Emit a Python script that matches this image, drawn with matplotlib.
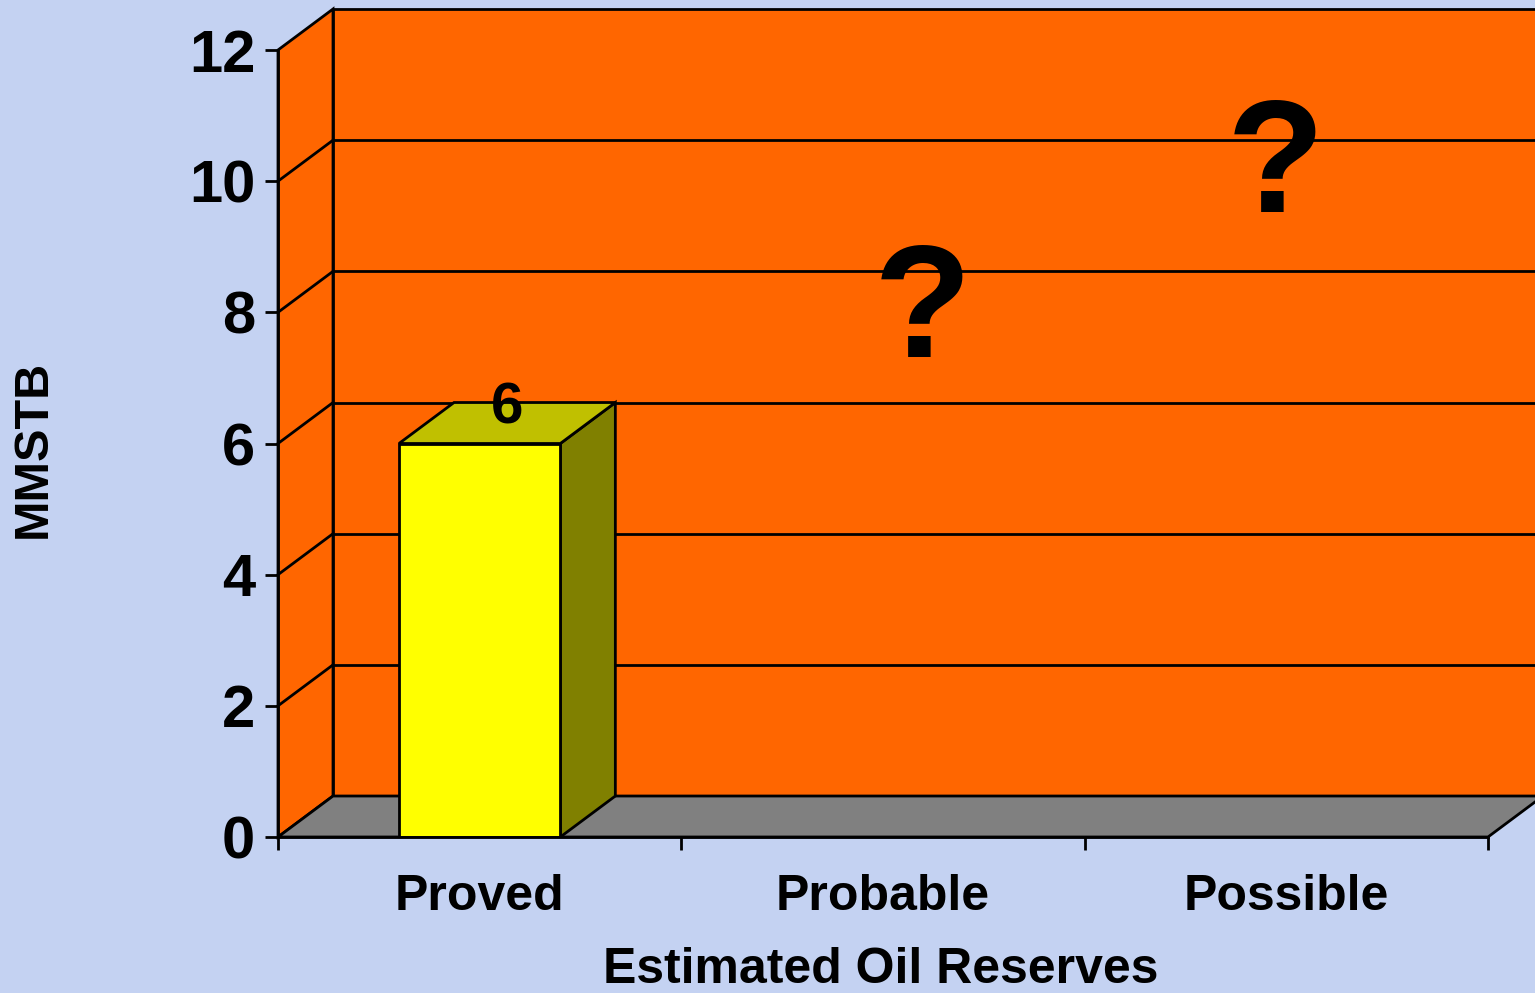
import matplotlib
matplotlib.use("Agg")
import matplotlib.pyplot as plt
from matplotlib.patches import Polygon, Rectangle

# ---- data ----
categories = ["Proved", "Probable", "Possible"]
values = [6, None, None]          # only "Proved" is known
value_labels = ["6", "?", "?"]
y_ticks = [0, 2, 4, 6, 8, 10, 12]
x_title = "Estimated Oil Reserves"
y_title = "MMSTB"

# ---- style ----
BG = "#C4D2F2"
WALL = "#FF6600"
FLOOR = "#808080"
BAR_FRONT = "#FFFF00"
BAR_TOP = "#C0C000"
BAR_SIDE = "#808000"
LW = 2.0
DX, DY = 0.1364, 0.625     # 3D depth offset (data units)
BAR_W = 0.4
# positions of the free "?" labels for unknown categories (data units)
q_pos = {1: (1.599, 7.32), 2: (2.472, 9.53)}

plt.rcParams["font.family"] = ["Liberation Sans", "DejaVu Sans"]
plt.rcParams["font.weight"] = "bold"

fig = plt.figure(figsize=(15.35, 9.93), dpi=100, facecolor=BG)
ax = fig.add_axes([278 / 1535, 156 / 993, 1257 / 1535, 837 / 993])
ax.set_facecolor("none")
n = len(categories)
ymax = y_ticks[-1]
ax.set_xlim(0, 1257 / 403.33)
ax.set_ylim(0, 837 / 65.583)

# walls and floor
left_wall = Polygon([(0, 0), (DX, DY), (DX, ymax + DY), (0, ymax)],
                    closed=True, facecolor=WALL, edgecolor="black", lw=LW, zorder=1)
back_wall = Polygon([(DX, DY), (n + DX, DY), (n + DX, ymax + DY), (DX, ymax + DY)],
                    closed=True, facecolor=WALL, edgecolor="black", lw=LW, zorder=1)
floor = Polygon([(0, 0), (n, 0), (n + DX, DY), (DX, DY)],
                closed=True, facecolor=FLOOR, edgecolor="black", lw=LW, zorder=1.5)
for p in (left_wall, back_wall, floor):
    p.set_clip_on(False)
    ax.add_patch(p)

# gridlines
for v in y_ticks[1:-1]:
    ax.plot([0, DX], [v, v + DY], color="black", lw=LW, zorder=1.2, clip_on=False)
    ax.plot([DX, n + DX], [v + DY, v + DY], color="black", lw=LW, zorder=1.2, clip_on=False)

# bars
for i, v in enumerate(values):
    c = i + 0.5
    if v is None:
        x, y = q_pos[i]
        ax.text(x, y, value_labels[i], ha="center", va="baseline",
                fontsize=115, fontweight="bold", color="black", zorder=5)
        continue
    x0, x1 = c - BAR_W / 2, c + BAR_W / 2
    side = Polygon([(x1, 0), (x1 + DX, DY), (x1 + DX, v + DY), (x1, v)],
                   closed=True, facecolor=BAR_SIDE, edgecolor="black", lw=LW, zorder=3)
    top = Polygon([(x0, v), (x1, v), (x1 + DX, v + DY), (x0 + DX, v + DY)],
                  closed=True, facecolor=BAR_TOP, edgecolor="black", lw=LW, zorder=3)
    front = Rectangle((x0, 0), BAR_W, v, facecolor=BAR_FRONT, edgecolor="black",
                      lw=LW, zorder=3.2)
    for p in (side, top, front):
        ax.add_patch(p)
    ax.text(c + DX / 2, v + DY / 2, value_labels[i], ha="center", va="baseline",
            fontsize=42, fontweight="bold", color="black", zorder=5)

# axes / spines
for s in ("top", "right"):
    ax.spines[s].set_visible(False)
ax.spines["left"].set_bounds(0, ymax)
ax.spines["bottom"].set_bounds(0, n)
for s in ("left", "bottom"):
    ax.spines[s].set_linewidth(LW)
    ax.spines[s].set_zorder(4)

ax.set_yticks(y_ticks)
ax.set_yticklabels([str(t) for t in y_ticks])
ax.tick_params(axis="y", direction="out", length=9.4, width=LW, pad=7,
               labelsize=43, colors="black")

ax.set_xticks(range(n + 1))
ax.set_xticklabels([])
ax.set_xticks([i + 0.5 for i in range(n)], minor=True)
ax.set_xticklabels(categories, minor=True)
ax.tick_params(axis="x", which="major", direction="out", length=9, width=LW)
ax.tick_params(axis="x", which="minor", length=0, pad=27, labelsize=36)
for lab in ax.get_yticklabels() + ax.get_xticklabels(minor=True):
    lab.set_fontweight("bold")

fig.text(881 / 1535, 1 - 983 / 993, x_title, ha="center", va="baseline",
         fontsize=36, fontweight="bold")
fig.text(33 / 1535, 1 - 449 / 993, y_title, ha="center", va="center",
         rotation=90, fontsize=35, fontweight="bold")

fig.savefig("out.png", dpi=100, facecolor=BG)
